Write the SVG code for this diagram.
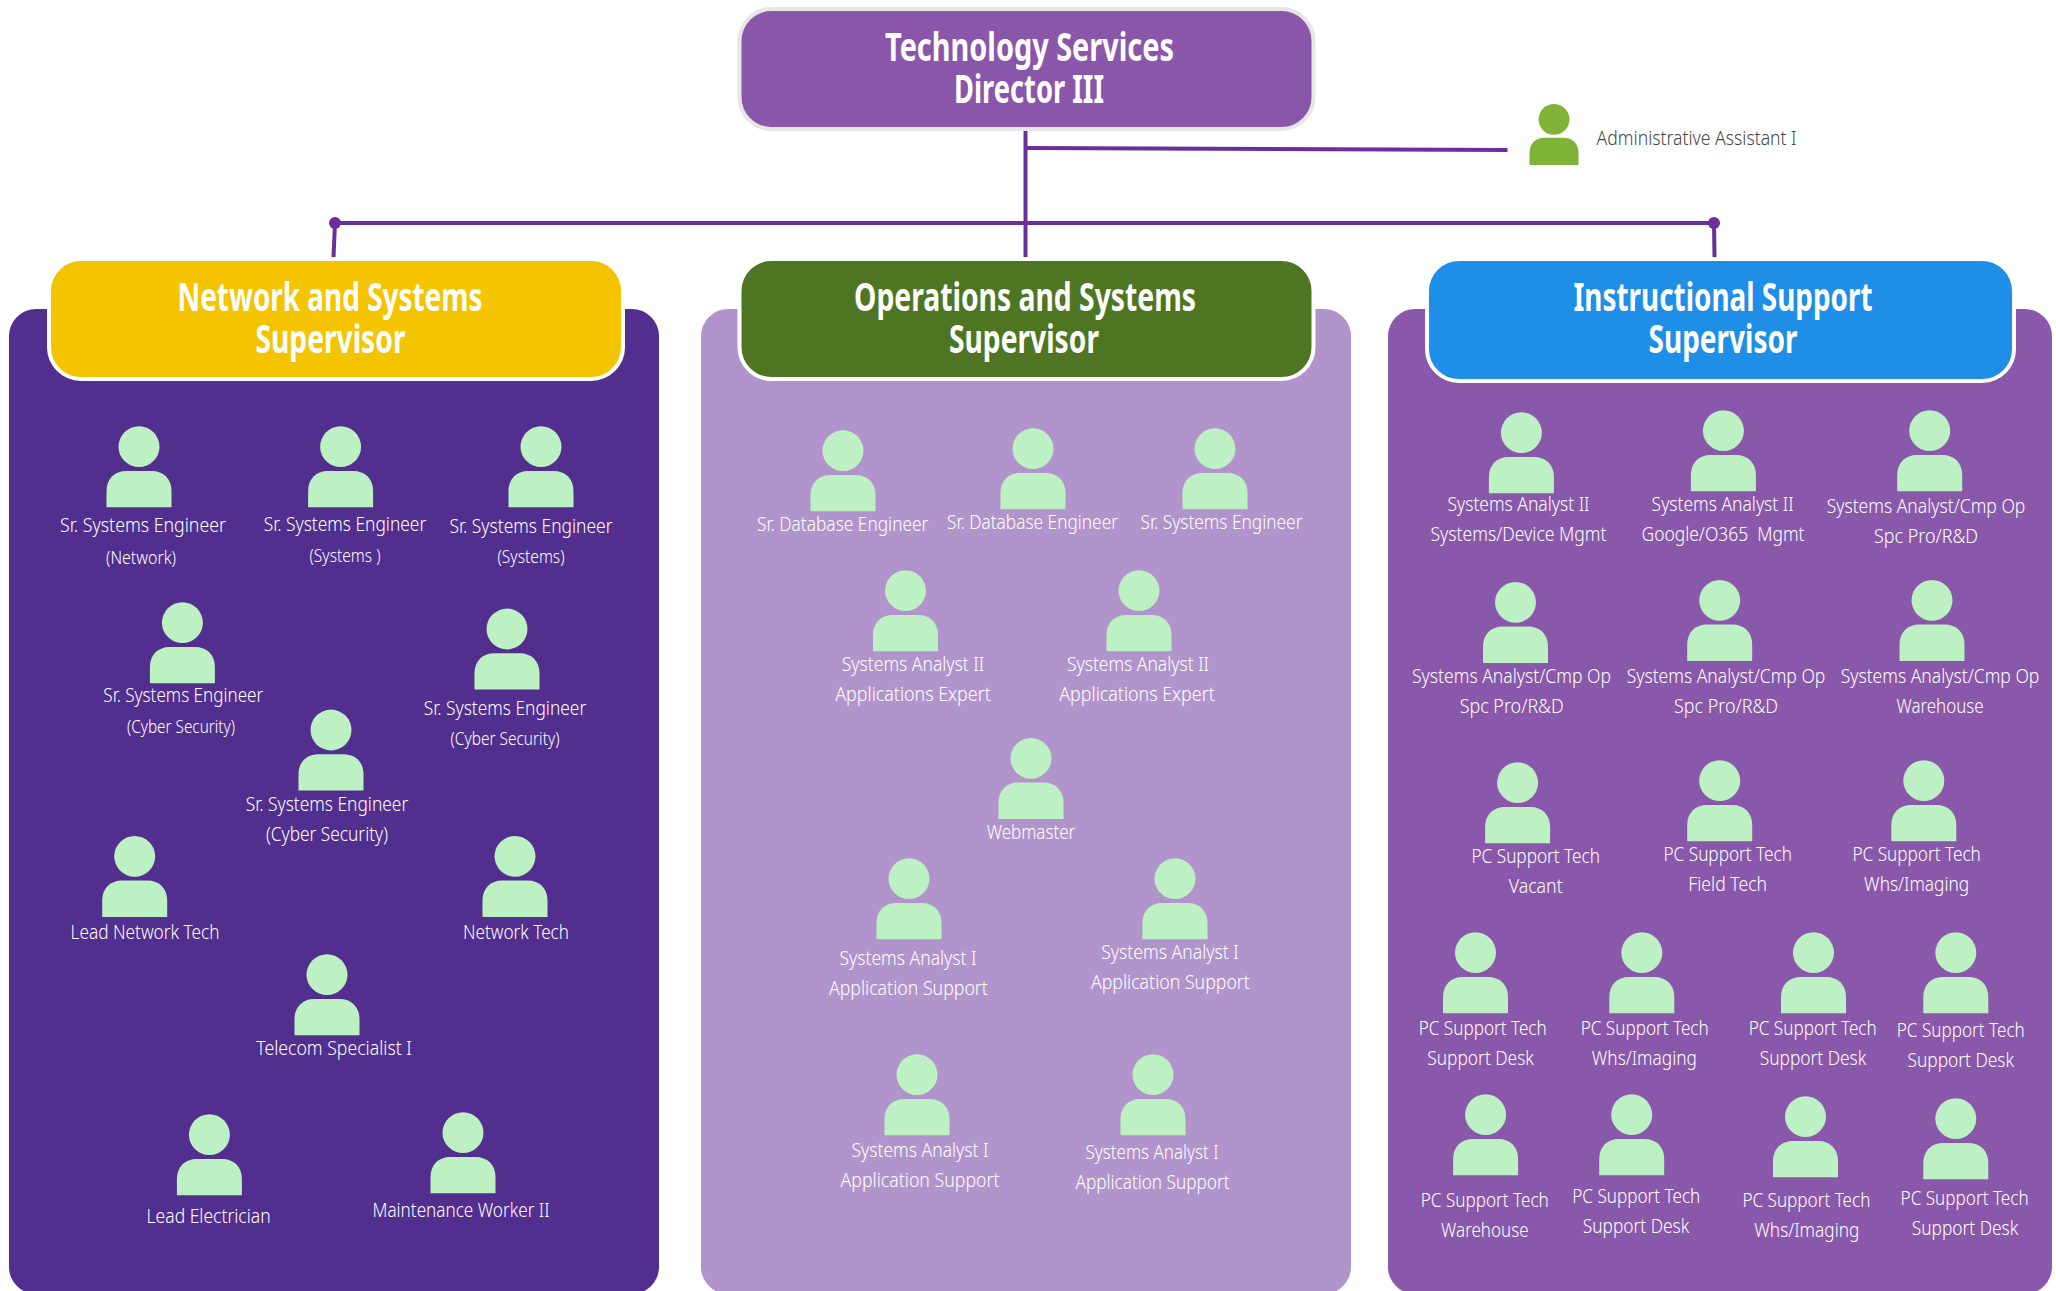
<svg xmlns="http://www.w3.org/2000/svg" width="2056" height="1291" viewBox="0 0 2056 1291">
<style>
text{font-family:"Noto Sans","Open Sans","Liberation Sans",sans-serif;text-anchor:middle}
.t{font-size:39px;font-weight:700;fill:#fff}
.l{font-size:20px;font-weight:300;fill:#fff}
.s{font-size:18px;font-weight:300;fill:#fff}
.a{font-size:20px;font-weight:300;fill:#444;text-anchor:start}
.ln{stroke:#6a2f9a;stroke-width:4;fill:none}
.box{stroke:#fff;stroke-width:4}
.p{fill:#bdf0c2}
</style>
<defs>
<g id="icon"><ellipse cx="0" cy="0" rx="20.5" ry="20.4"/><path d="M-32.5 60.6V44C-32.5 32-24 24.3-13 24.3H13C24 24.3 32.5 32 32.5 44V60.6Z"/></g>
</defs>
<rect x="9" y="309" width="650" height="985" rx="27" fill="#522e8e"/>
<rect x="701" y="309" width="650" height="985" rx="27" fill="#b294cc"/>
<rect x="1388" y="309" width="664" height="985" rx="27" fill="#8a58aa"/>
<g id="connectors">
<path class="ln" d="M1025.5 131V257"/>
<path class="ln" d="M1027 148L1507.5 150"/>
<path class="ln" d="M335 223H1714"/>
<path class="ln" d="M335 223L333.5 257"/>
<path class="ln" d="M1714 223L1714.5 257"/>
<circle cx="335" cy="223" r="6" fill="#6a2f9a"/>
<circle cx="1714" cy="223" r="6" fill="#6a2f9a"/>
</g>
<g id="director"><rect x="739.5" y="9" width="574" height="120" rx="32" fill="#8a56aa" stroke="#e6e6e6" stroke-width="4"/>
<text class="t" x="1029.5" y="61" textLength="289" lengthAdjust="spacingAndGlyphs">Technology Services</text>
<text class="t" x="1029" y="103" textLength="150" lengthAdjust="spacingAndGlyphs">Director III</text></g>
<g id="admin"><use href="#icon" transform="translate(1554 119.3) scale(.755)" fill="#80b338"/>
<text class="a" x="1596.6" y="145" textLength="200" lengthAdjust="spacingAndGlyphs">Administrative Assistant I</text></g>
<g id="sup-network"><rect class="box" x="49" y="259" width="574" height="120" rx="32" fill="#f5c400"/>
<text class="t" x="330" y="311" textLength="305" lengthAdjust="spacingAndGlyphs">Network and Systems</text>
<text class="t" x="330.5" y="353" textLength="150" lengthAdjust="spacingAndGlyphs">Supervisor</text></g>
<g id="sup-operations"><rect class="box" x="739.5" y="259" width="574" height="120" rx="32" fill="#4e7522"/>
<text class="t" x="1025" y="311" textLength="342" lengthAdjust="spacingAndGlyphs">Operations and Systems</text>
<text class="t" x="1024" y="353" textLength="150" lengthAdjust="spacingAndGlyphs">Supervisor</text></g>
<g id="sup-instructional"><rect class="box" x="1427" y="259" width="587" height="122" rx="32" fill="#1e8ee6"/>
<text class="t" x="1723" y="311" textLength="299" lengthAdjust="spacingAndGlyphs">Instructional Support</text>
<text class="t" x="1723" y="353" textLength="149" lengthAdjust="spacingAndGlyphs">Supervisor</text></g>

<g id="n1"><use class="p" href="#icon" x="139" y="446.7"/><text class="l" x="143" y="532" textLength="166" lengthAdjust="spacingAndGlyphs">Sr. Systems Engineer</text><text class="s" x="141" y="564" textLength="70" lengthAdjust="spacingAndGlyphs">(Network)</text></g>
<g id="n2"><use class="p" href="#icon" x="340.6" y="446.7"/><text class="l" x="345" y="531" textLength="162.5" lengthAdjust="spacingAndGlyphs">Sr. Systems Engineer</text><text class="s" x="345" y="561.7" textLength="71" lengthAdjust="spacingAndGlyphs">(Systems )</text></g>
<g id="n3"><use class="p" href="#icon" x="541" y="446.7"/><text class="l" x="531" y="533" textLength="163" lengthAdjust="spacingAndGlyphs">Sr. Systems Engineer</text><text class="s" x="531" y="563" textLength="67" lengthAdjust="spacingAndGlyphs">(Systems)</text></g>
<g id="n4"><use class="p" href="#icon" x="182.4" y="622.7"/><text class="l" x="183.3" y="702.3" textLength="160" lengthAdjust="spacingAndGlyphs">Sr. Systems Engineer</text><text class="s" x="181" y="733" textLength="108" lengthAdjust="spacingAndGlyphs">(Cyber Security)</text></g>
<g id="n5"><use class="p" href="#icon" x="507" y="629"/><text class="l" x="505" y="715" textLength="162.5" lengthAdjust="spacingAndGlyphs">Sr. Systems Engineer</text><text class="s" x="505" y="745" textLength="109" lengthAdjust="spacingAndGlyphs">(Cyber Security)</text></g>
<g id="n6"><use class="p" href="#icon" x="331" y="730"/><text class="l" x="327" y="811" textLength="162.5" lengthAdjust="spacingAndGlyphs">Sr. Systems Engineer</text><text class="l" x="327" y="841" textLength="122" lengthAdjust="spacingAndGlyphs">(Cyber Security)</text></g>
<g id="n7"><use class="p" href="#icon" x="134.7" y="856.3"/><text class="l" x="145" y="939" textLength="149" lengthAdjust="spacingAndGlyphs">Lead Network Tech</text></g>
<g id="n8"><use class="p" href="#icon" x="515" y="856.3"/><text class="l" x="516" y="939" textLength="106" lengthAdjust="spacingAndGlyphs">Network Tech</text></g>
<g id="n9"><use class="p" href="#icon" x="327" y="974.7"/><text class="l" x="334" y="1055" textLength="155.5" lengthAdjust="spacingAndGlyphs">Telecom Specialist I</text></g>
<g id="n10"><use class="p" href="#icon" x="209.4" y="1134.7"/><text class="l" x="208.6" y="1222.7" textLength="124" lengthAdjust="spacingAndGlyphs">Lead Electrician</text></g>
<g id="n11"><use class="p" href="#icon" x="463" y="1132.7"/><text class="l" x="461" y="1216.7" textLength="177" lengthAdjust="spacingAndGlyphs">Maintenance Worker II</text></g>

<g id="o1"><use class="p" href="#icon" x="843" y="450.7"/><text class="l" x="842.7" y="531" textLength="171.4" lengthAdjust="spacingAndGlyphs">Sr. Database Engineer</text></g>
<g id="o2"><use class="p" href="#icon" x="1033" y="448.7"/><text class="l" x="1032.5" y="529" textLength="171" lengthAdjust="spacingAndGlyphs">Sr. Database Engineer</text></g>
<g id="o3"><use class="p" href="#icon" x="1215" y="448.7"/><text class="l" x="1221.5" y="529" textLength="162" lengthAdjust="spacingAndGlyphs">Sr. Systems Engineer</text></g>
<g id="o4"><use class="p" href="#icon" x="905.5" y="590.7"/><text class="l" x="913" y="671.3" textLength="142.4" lengthAdjust="spacingAndGlyphs">Systems Analyst II</text><text class="l" x="913" y="701" textLength="155.5" lengthAdjust="spacingAndGlyphs">Applications Expert</text></g>
<g id="o5"><use class="p" href="#icon" x="1139" y="590.7"/><text class="l" x="1138" y="671.3" textLength="142" lengthAdjust="spacingAndGlyphs">Systems Analyst II</text><text class="l" x="1137" y="701" textLength="155.5" lengthAdjust="spacingAndGlyphs">Applications Expert</text></g>
<g id="o6"><use class="p" href="#icon" x="1031" y="758.3"/><text class="l" x="1031" y="839" textLength="88.6" lengthAdjust="spacingAndGlyphs">Webmaster</text></g>
<g id="o7"><use class="p" href="#icon" x="909" y="878.7"/><text class="l" x="908" y="965" textLength="137" lengthAdjust="spacingAndGlyphs">Systems Analyst I</text><text class="l" x="908.4" y="995" textLength="159" lengthAdjust="spacingAndGlyphs">Application Support</text></g>
<g id="o8"><use class="p" href="#icon" x="1175" y="878.7"/><text class="l" x="1170" y="959" textLength="137.5" lengthAdjust="spacingAndGlyphs">Systems Analyst I</text><text class="l" x="1170.4" y="989" textLength="159" lengthAdjust="spacingAndGlyphs">Application Support</text></g>
<g id="o9"><use class="p" href="#icon" x="917" y="1074.7"/><text class="l" x="920" y="1157" textLength="137" lengthAdjust="spacingAndGlyphs">Systems Analyst I</text><text class="l" x="920" y="1187" textLength="159" lengthAdjust="spacingAndGlyphs">Application Support</text></g>
<g id="o10"><use class="p" href="#icon" x="1153" y="1074.7"/><text class="l" x="1152" y="1159" textLength="133" lengthAdjust="spacingAndGlyphs">Systems Analyst I</text><text class="l" x="1152.5" y="1189" textLength="154" lengthAdjust="spacingAndGlyphs">Application Support</text></g>

<g id="i1"><use class="p" href="#icon" x="1521.4" y="432.7"/><text class="l" x="1518.5" y="511" textLength="142" lengthAdjust="spacingAndGlyphs">Systems Analyst II</text><text class="l" x="1518.5" y="541" textLength="176" lengthAdjust="spacingAndGlyphs">Systems/Device Mgmt</text></g>
<g id="i2"><use class="p" href="#icon" x="1723.4" y="430.7"/><text class="l" x="1722.6" y="511" textLength="142" lengthAdjust="spacingAndGlyphs">Systems Analyst II</text><text class="l" x="1723" y="541" textLength="163" lengthAdjust="spacingAndGlyphs" xml:space="preserve">Google/O365  Mgmt</text></g>
<g id="i3"><use class="p" href="#icon" x="1929.7" y="430.7"/><text class="l" x="1926" y="513" textLength="198.7" lengthAdjust="spacingAndGlyphs">Systems Analyst/Cmp Op</text><text class="l" x="1926" y="543" textLength="104" lengthAdjust="spacingAndGlyphs">Spc Pro/R&amp;D</text></g>
<g id="i4"><use class="p" href="#icon" x="1515.5" y="602.3"/><text class="l" x="1511.5" y="683" textLength="199" lengthAdjust="spacingAndGlyphs">Systems Analyst/Cmp Op</text><text class="l" x="1511.7" y="713" textLength="104" lengthAdjust="spacingAndGlyphs">Spc Pro/R&amp;D</text></g>
<g id="i5"><use class="p" href="#icon" x="1719.7" y="600.3"/><text class="l" x="1726" y="683" textLength="198.7" lengthAdjust="spacingAndGlyphs">Systems Analyst/Cmp Op</text><text class="l" x="1726" y="713" textLength="104" lengthAdjust="spacingAndGlyphs">Spc Pro/R&amp;D</text></g>
<g id="i6"><use class="p" href="#icon" x="1932" y="600.3"/><text class="l" x="1940" y="683" textLength="198.7" lengthAdjust="spacingAndGlyphs">Systems Analyst/Cmp Op</text><text class="l" x="1940" y="713" textLength="87" lengthAdjust="spacingAndGlyphs">Warehouse</text></g>
<g id="i7"><use class="p" href="#icon" x="1517.6" y="782.7"/><text class="l" x="1535.7" y="863" textLength="128.4" lengthAdjust="spacingAndGlyphs">PC Support Tech</text><text class="l" x="1535.7" y="893" textLength="54" lengthAdjust="spacingAndGlyphs">Vacant</text></g>
<g id="i8"><use class="p" href="#icon" x="1719.7" y="780.7"/><text class="l" x="1727.7" y="861" textLength="128.4" lengthAdjust="spacingAndGlyphs">PC Support Tech</text><text class="l" x="1727.7" y="891" textLength="78.7" lengthAdjust="spacingAndGlyphs">Field Tech</text></g>
<g id="i9"><use class="p" href="#icon" x="1923.8" y="780.7"/><text class="l" x="1916.6" y="861" textLength="128.4" lengthAdjust="spacingAndGlyphs">PC Support Tech</text><text class="l" x="1916.6" y="891" textLength="105" lengthAdjust="spacingAndGlyphs">Whs/Imaging</text></g>
<g id="i10"><use class="p" href="#icon" x="1475.5" y="952.7"/><text class="l" x="1482.7" y="1035" textLength="128" lengthAdjust="spacingAndGlyphs">PC Support Tech</text><text class="l" x="1480.6" y="1065" textLength="106.5" lengthAdjust="spacingAndGlyphs">Support Desk</text></g>
<g id="i11"><use class="p" href="#icon" x="1641.8" y="952.7"/><text class="l" x="1644.7" y="1035" textLength="128" lengthAdjust="spacingAndGlyphs">PC Support Tech</text><text class="l" x="1644.3" y="1065" textLength="105" lengthAdjust="spacingAndGlyphs">Whs/Imaging</text></g>
<g id="i12"><use class="p" href="#icon" x="1813.5" y="952.7"/><text class="l" x="1812.7" y="1035" textLength="128" lengthAdjust="spacingAndGlyphs">PC Support Tech</text><text class="l" x="1813" y="1065" textLength="106.5" lengthAdjust="spacingAndGlyphs">Support Desk</text></g>
<g id="i13"><use class="p" href="#icon" x="1955.8" y="952.7"/><text class="l" x="1960.8" y="1037" textLength="128" lengthAdjust="spacingAndGlyphs">PC Support Tech</text><text class="l" x="1960.8" y="1067" textLength="106.5" lengthAdjust="spacingAndGlyphs">Support Desk</text></g>
<g id="i14"><use class="p" href="#icon" x="1485.6" y="1114.7"/><text class="l" x="1484.8" y="1207" textLength="128" lengthAdjust="spacingAndGlyphs">PC Support Tech</text><text class="l" x="1484.8" y="1237" textLength="87.5" lengthAdjust="spacingAndGlyphs">Warehouse</text></g>
<g id="i15"><use class="p" href="#icon" x="1631.7" y="1114.7"/><text class="l" x="1636.3" y="1203" textLength="128" lengthAdjust="spacingAndGlyphs">PC Support Tech</text><text class="l" x="1636" y="1233" textLength="106.5" lengthAdjust="spacingAndGlyphs">Support Desk</text></g>
<g id="i16"><use class="p" href="#icon" x="1805.5" y="1116.7"/><text class="l" x="1806.4" y="1207" textLength="128" lengthAdjust="spacingAndGlyphs">PC Support Tech</text><text class="l" x="1806.8" y="1237" textLength="105" lengthAdjust="spacingAndGlyphs">Whs/Imaging</text></g>
<g id="i17"><use class="p" href="#icon" x="1955.8" y="1118.7"/><text class="l" x="1964.6" y="1205" textLength="128" lengthAdjust="spacingAndGlyphs">PC Support Tech</text><text class="l" x="1965" y="1235" textLength="106.5" lengthAdjust="spacingAndGlyphs">Support Desk</text></g>
</svg>
